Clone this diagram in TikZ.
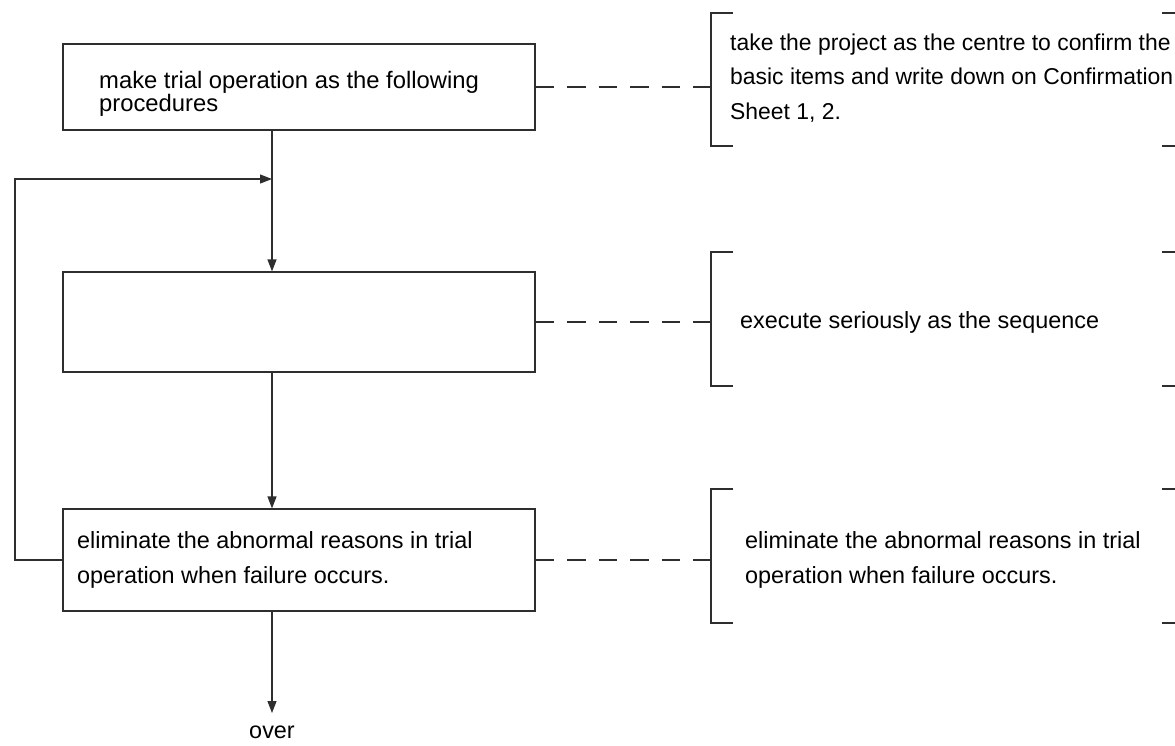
\documentclass[tikz,border=0pt]{standalone}
\usepackage{fontspec}
\setmainfont{Liberation Sans}
\usetikzlibrary{arrows.meta}
\begin{document}
\begin{tikzpicture}[x=1pt,y=1pt,
  line/.style={draw=black!82,line width=1.2pt},
  arr/.style={line,-{Triangle[length=12pt,width=9pt]}},
  dline/.style={line,dash pattern=on 18.5pt off 13pt},
  box/.style={line,rectangle,inner sep=0pt,minimum width=472pt},
  txt/.style={inner sep=0pt,anchor=base west,font=\fontsize{23.4}{35}\selectfont},
  brk/.style={line}]
\useasboundingbox (0,0) rectangle (1175,-745);
% boxes
\node[box,minimum height=86pt] (b1) at (299,-87) {};
\node[box,minimum height=100pt] (b2) at (299,-322) {};
\node[box,minimum height=102pt] (b3) at (299,-560) {};
% box texts
\node[txt,font=\fontsize{23.8}{21}\selectfont] (t1) at (99,-88) {\parbox[t]{430pt}{\baselineskip=20.5pt make trial operation as the following\\procedures}};
\node[txt] (t3) at (77,-548) {\parbox[t]{450pt}{\baselineskip=35pt eliminate the abnormal reasons in trial\\operation when failure occurs.}};
% connectors
\coordinate (j) at (272,-179);
\coordinate (lp) at (15,-179);
\coordinate (endp) at (272,-713);
\draw[arr] (b1.south -| j) -- (j) -- (b2.north -| j);
\draw[arr] (b2.south -| j) -- (b3.north -| j);
\draw[arr] (b3.west) -- (b3.west -| lp) -- (lp) -- (j);
\draw[arr] (b3.south -| j) -- (endp);
\node[inner sep=0pt,anchor=base,font=\fontsize{23.4}{28}\selectfont] (over) at (272,-738) {over};
% dashed links
\coordinate (c1) at (711,-87);
\coordinate (c2) at (711,-322);
\coordinate (c3) at (711,-560);
\draw[dline] (b1.east) -- (c1);
\draw[dline] (b2.east) -- (c2);
\draw[dline] (b3.east) -- (c3);
% brackets
\draw[brk] (733,-13) -- (711,-13) -- (711,-146) -- (733,-146);
\draw[brk] (1162,-13) -- (1176,-13);
\draw[brk] (1162,-146) -- (1176,-146);
\draw[brk] (733,-252) -- (711,-252) -- (711,-386) -- (733,-386);
\draw[brk] (1162,-252) -- (1176,-252);
\draw[brk] (1162,-386) -- (1176,-386);
\draw[brk] (733,-489) -- (711,-489) -- (711,-623) -- (733,-623);
\draw[brk] (1162,-489) -- (1176,-489);
\draw[brk] (1162,-623) -- (1176,-623);
% right texts
\node[txt,font=\fontsize{22.9}{34.5}\selectfont] (r1) at (730,-50) {\parbox[t]{445pt}{\baselineskip=34.5pt take the project as the centre to confirm the\\basic items and write down on Confirmation\\Sheet 1, 2.}};
\node[txt] (r2) at (740,-328) {execute seriously as the sequence};
\node[txt] (r3) at (745,-548) {\parbox[t]{430pt}{\baselineskip=35pt eliminate the abnormal reasons in trial\\operation when failure occurs.}};
\end{tikzpicture}
\end{document}
